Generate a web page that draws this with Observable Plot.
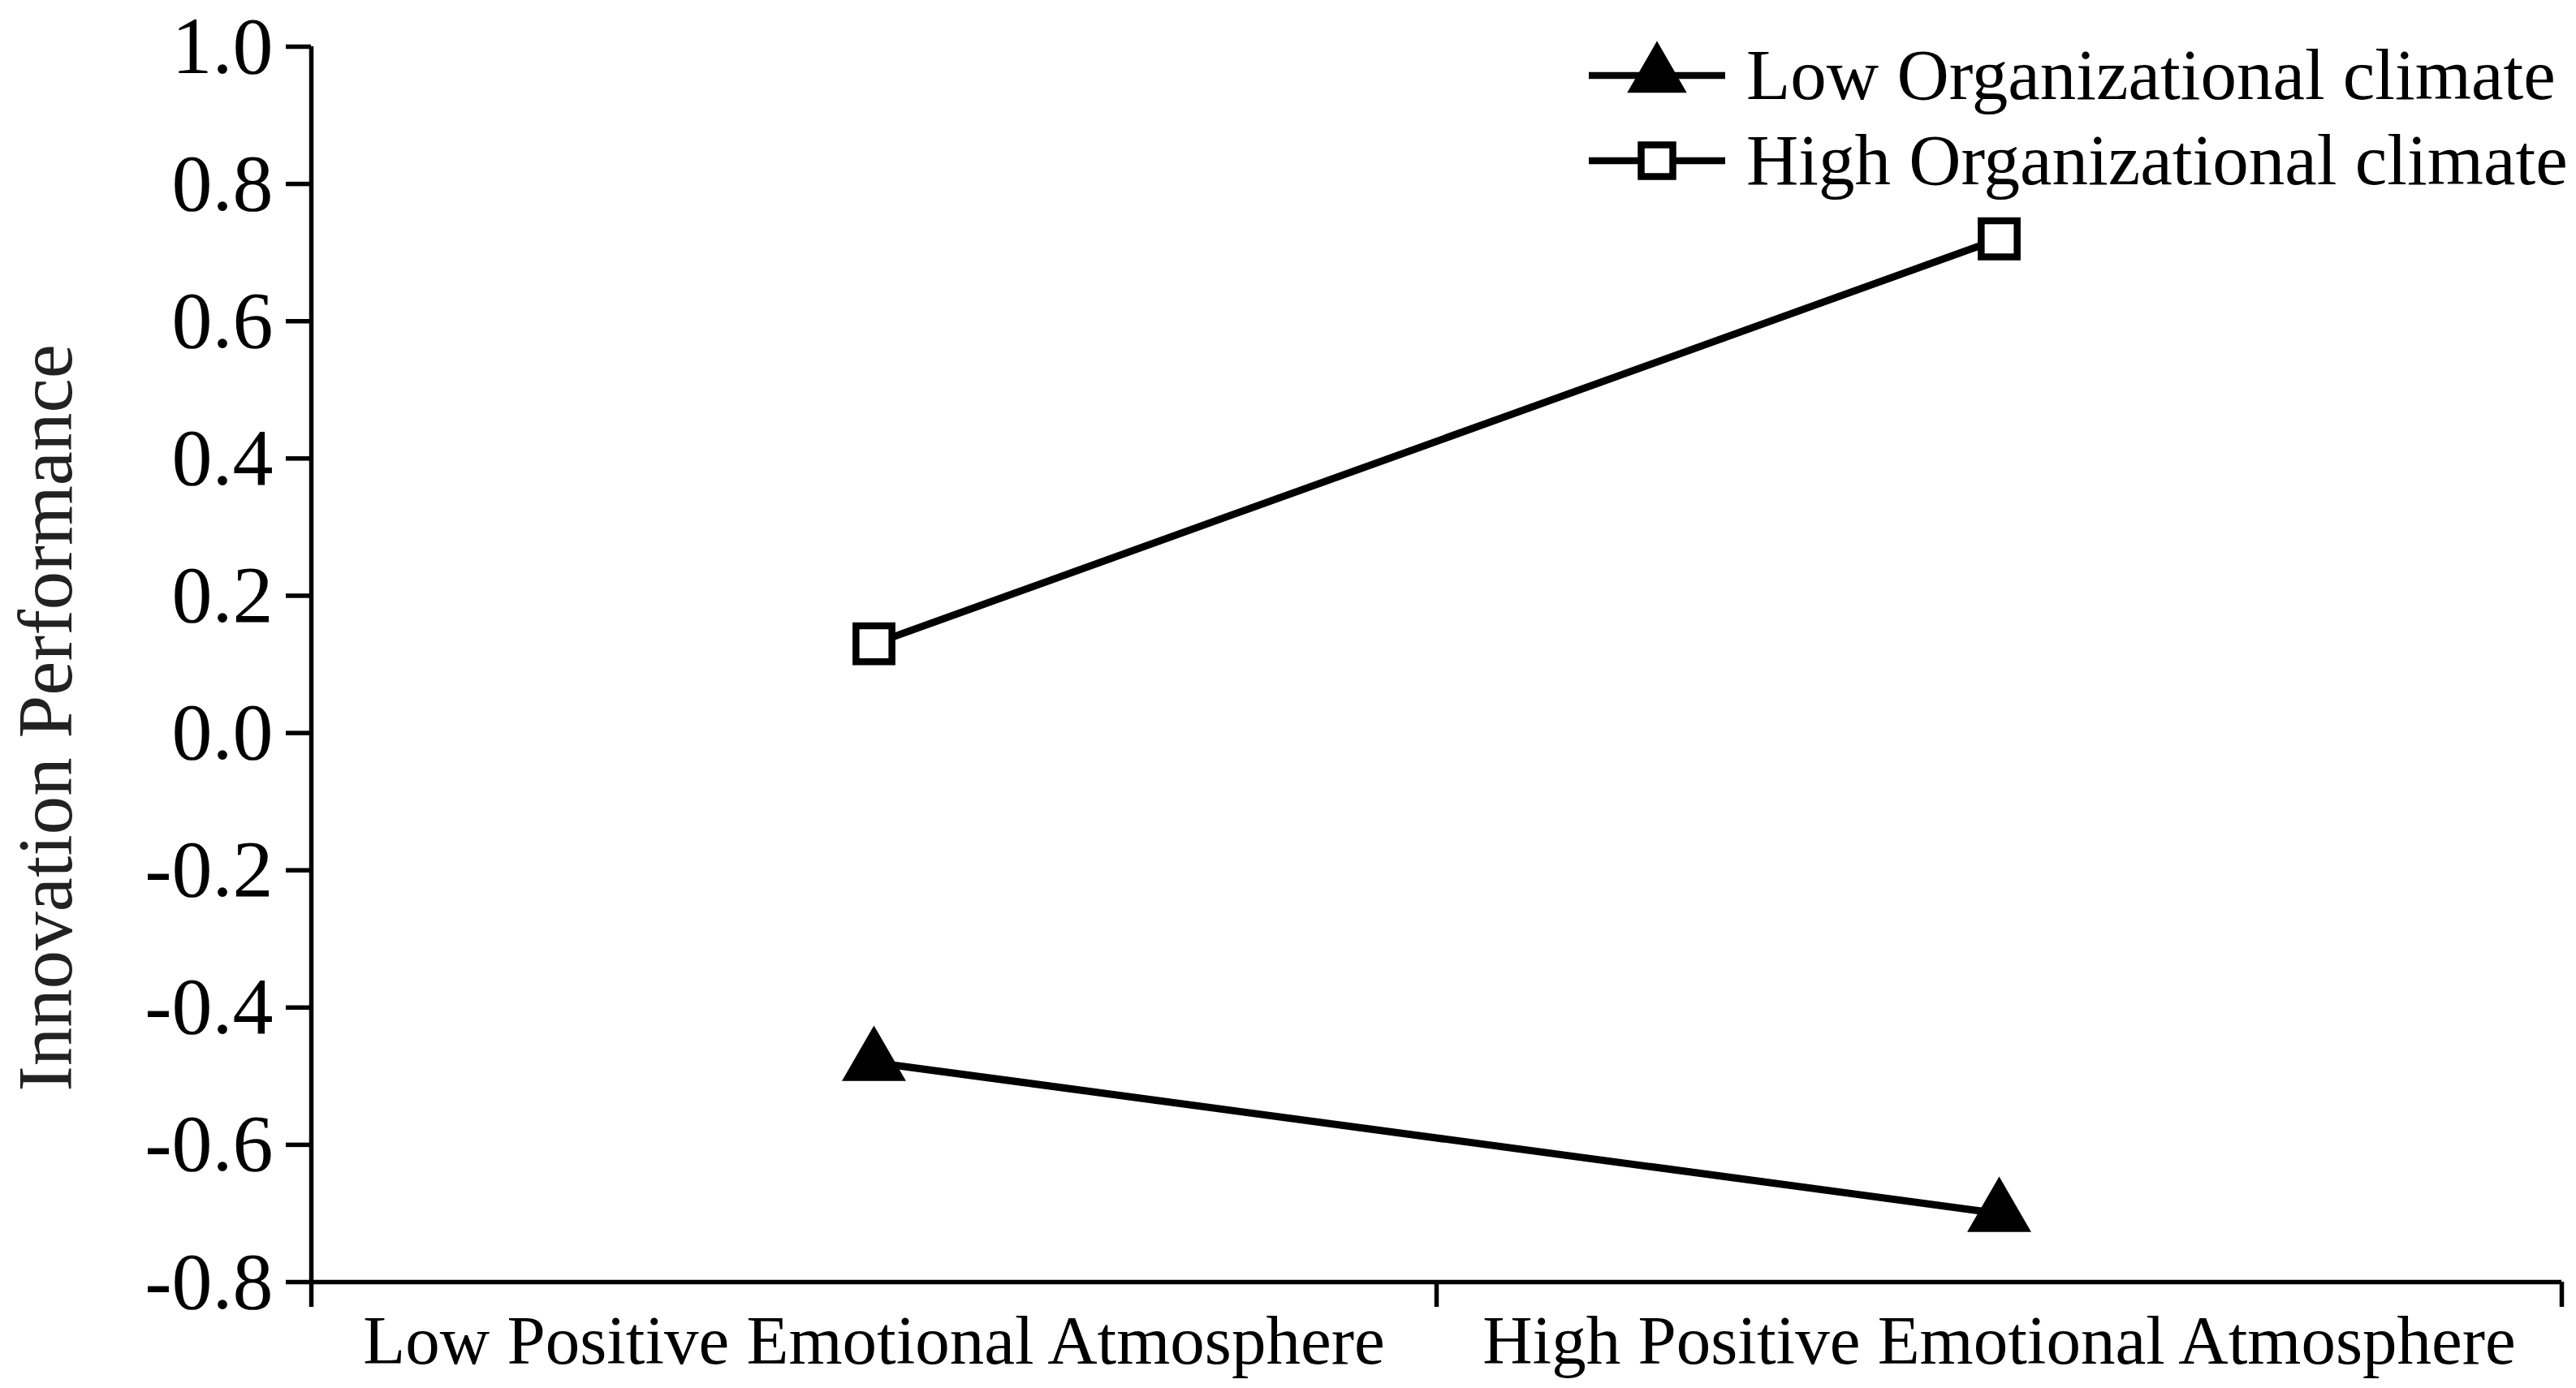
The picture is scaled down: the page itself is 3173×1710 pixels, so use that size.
<!DOCTYPE html>
<html>
<head>
<meta charset="utf-8">
<script src="https://cdn.jsdelivr.net/npm/d3@7"></script>
<script src="https://cdn.jsdelivr.net/npm/@observablehq/plot@0.6"></script>
<style>
  html, body { margin: 0; padding: 0; background: #fff; }
  #wrap { position: relative; width: 3173px; height: 1710px; }
  #legend { position: absolute; left: 1950px; top: 30px; }
</style>
</head>
<body>
<div id="wrap"></div>
<script>
// ---- data ----
const categories = ["Low Positive Emotional Atmosphere", "High Positive Emotional Atmosphere"];
const seriesNames = ["Low Organizational climate", "High Organizational climate"];
const lowClimate = [-0.48, -0.70];
const highClimate = [0.13, 0.72];
const yTicks = [-0.8, -0.6, -0.4, -0.2, 0.0, 0.2, 0.4, 0.6, 0.8, 1.0];
const yLabel = "Innovation Performance";

const symbols = {"Low Organizational climate": "triangle", "High Organizational climate": "square"};
const rows = [];
categories.forEach((c, i) => {
  rows.push({series: seriesNames[0], cat: c, xi: i + 0.5, value: lowClimate[i]});
  rows.push({series: seriesNames[1], cat: c, xi: i + 0.5, value: highClimate[i]});
});
const boundaries = d3.range(categories.length + 1);
const centers = categories.map((c, i) => i + 0.5);

const font = "Liberation Serif";

const chart = Plot.plot({
  width: 3173,
  height: 1710,
  marginLeft: 383,
  marginTop: 57,
  marginBottom: 131,
  marginRight: 18,
  style: {fontFamily: font, background: "#fff", color: "#000"},
  x: {type: "linear", domain: [0, categories.length], axis: null},
  y: {domain: [-0.8, 1.0], axis: null},
  marks: [
    Plot.axisY({ticks: yTicks, tickSize: 31, tickPadding: 16, strokeWidth: 5.5,
      tickFormat: d => d.toFixed(1), fontSize: 100, label: null}),
    Plot.axisX({ticks: boundaries, tickSize: 31, strokeWidth: 5.5, tickFormat: () => "", label: null}),
    Plot.axisX({ticks: centers, tickSize: 0, tickPadding: 40,
      tickFormat: v => categories[Math.floor(v)], fontSize: 85, label: null}),
    Plot.ruleX([0], {stroke: "black", strokeWidth: 5.5}),
    Plot.ruleY([-0.8], {stroke: "black", strokeWidth: 5.5}),
    Plot.text([yLabel], {frameAnchor: "left", textAnchor: "middle", rotate: -90, dx: -326, dy: 66,
      fontSize: 95, fill: "#222", lineAnchor: "middle"}),
    Plot.line(rows, {x: "xi", y: "value", z: "series", stroke: "black", strokeWidth: 9}),
    Plot.dot(rows.filter(d => d.series === seriesNames[0]), {x: "xi", y: "value",
      symbol: "triangle", r: 28, fill: "black", stroke: "black", strokeWidth: 2}),
    Plot.dot(rows.filter(d => d.series === seriesNames[1]), {x: "xi", y: "value",
      symbol: "square", r: 25, fill: "white", stroke: "black", strokeWidth: 8.5})
  ]
});
const wrap = document.getElementById("wrap");
wrap.appendChild(chart);

// ---- legend ----
const lg = d3.select(wrap).append("svg").attr("id", "legend")
  .attr("width", 1223).attr("height", 230)
  .style("font-family", font);
const rowY = [63, 168];
seriesNames.forEach((s, i) => {
  const g = lg.append("g").attr("transform", `translate(0,${rowY[i]})`);
  g.append("line").attr("x1", 7).attr("x2", 175).attr("y1", 0).attr("y2", 0)
    .attr("stroke", "black").attr("stroke-width", 8.5);
  const isTri = symbols[s] === "triangle";
  const sym = isTri ? d3.symbolTriangle : d3.symbolSquare;
  const r = isTri ? 26 : 22;
  g.append("path").attr("transform", "translate(91,0)")
    .attr("d", d3.symbol(sym, Math.PI * r * r)())
    .attr("fill", isTri ? "black" : "white")
    .attr("stroke", "black").attr("stroke-width", isTri ? 2 : 8.5);
  g.append("text").attr("x", 201).attr("y", 29).attr("font-size", 89)
    .attr("fill", "black").text(s);
});
</script>
</body>
</html>
